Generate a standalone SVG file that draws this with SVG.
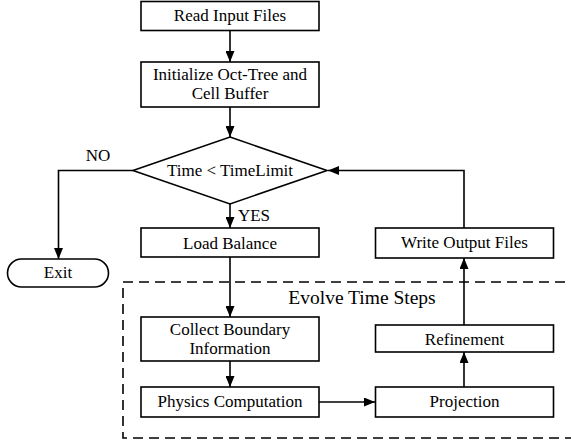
<svg xmlns="http://www.w3.org/2000/svg" width="571" height="444" viewBox="0 0 571 444" font-family="Liberation Serif, Times New Roman, serif">
<defs>
<style>
.box{fill:#fff;stroke:#000;stroke-width:1.6}
.t{font-size:17px;fill:#000;text-anchor:middle}
.c{fill:none;stroke:#000;stroke-width:1.6}
.dash{fill:none;stroke:#000;stroke-width:1.6;stroke-dasharray:10 6}
</style>
<marker id="ah" viewBox="0 0 11 9" refX="11" refY="4.5" markerWidth="11" markerHeight="9" markerUnits="userSpaceOnUse" orient="auto">
<path d="M0,0 L11,4.5 L0,9 Z" fill="#000"/>
</marker>
</defs>
<rect width="571" height="444" fill="#fff"/>
<g id="evolve-group">
<rect class="dash" x="123" y="282" width="460" height="156"/>
<text class="t" x="362" y="304" style="font-size:19.5px">Evolve Time Steps</text>
</g>
<g id="connectors">
<path class="c" d="M230,31 V62" marker-end="url(#ah)"/>
<path class="c" d="M230,107 V137" marker-end="url(#ah)"/>
<path class="c" d="M230,204 V228" marker-end="url(#ah)"/>
<path class="c" d="M230,257 V317" marker-end="url(#ah)"/>
<path class="c" d="M230,361 V387" marker-end="url(#ah)"/>
<path class="c" d="M319,402 H375" marker-end="url(#ah)"/>
<path class="c" d="M464,387 V352" marker-end="url(#ah)"/>
<path class="c" d="M464,325 V258" marker-end="url(#ah)"/>
<path class="c" d="M464,228 V170.5 H328" marker-end="url(#ah)"/>
<path class="c" d="M133,170.5 H58.5 V259" marker-end="url(#ah)"/>
<text class="t" x="98" y="161">NO</text>
<text class="t" x="254" y="221">YES</text>
</g>
<g id="read">
<rect class="box" x="141" y="1.5" width="178" height="29"/>
<text class="t" x="230" y="21">Read Input Files</text>
</g>
<g id="init">
<rect class="box" x="141" y="62" width="178" height="45"/>
<text class="t" x="230" y="80">Initialize Oct-Tree and</text>
<text class="t" x="230" y="99">Cell Buffer</text>
</g>
<g id="decision">
<polygon class="box" points="230,137 327,170.5 230,204 133,170.5"/>
<text class="t" x="230" y="176">Time &lt; TimeLimit</text>
</g>
<g id="exit">
<rect class="box" x="7.5" y="259" width="101" height="28" rx="14" ry="14"/>
<text class="t" x="58" y="277.5">Exit</text>
</g>
<g id="load">
<rect class="box" x="141" y="228" width="178" height="29"/>
<text class="t" x="230" y="248.5">Load Balance</text>
</g>
<g id="write">
<rect class="box" x="375.5" y="228" width="178" height="30"/>
<text class="t" x="464.5" y="248">Write Output Files</text>
</g>
<g id="collect">
<rect class="box" x="141" y="317" width="178" height="44"/>
<text class="t" x="230" y="334.5">Collect Boundary</text>
<text class="t" x="230" y="354">Information</text>
</g>
<g id="physics">
<rect class="box" x="141" y="387" width="178" height="30"/>
<text class="t" x="230" y="407">Physics Computation</text>
</g>
<g id="refinement">
<rect class="box" x="375.5" y="325" width="178" height="27"/>
<text class="t" x="464.5" y="344.5">Refinement</text>
</g>
<g id="projection">
<rect class="box" x="375.5" y="387" width="178" height="30"/>
<text class="t" x="464.5" y="407">Projection</text>
</g>
</svg>
